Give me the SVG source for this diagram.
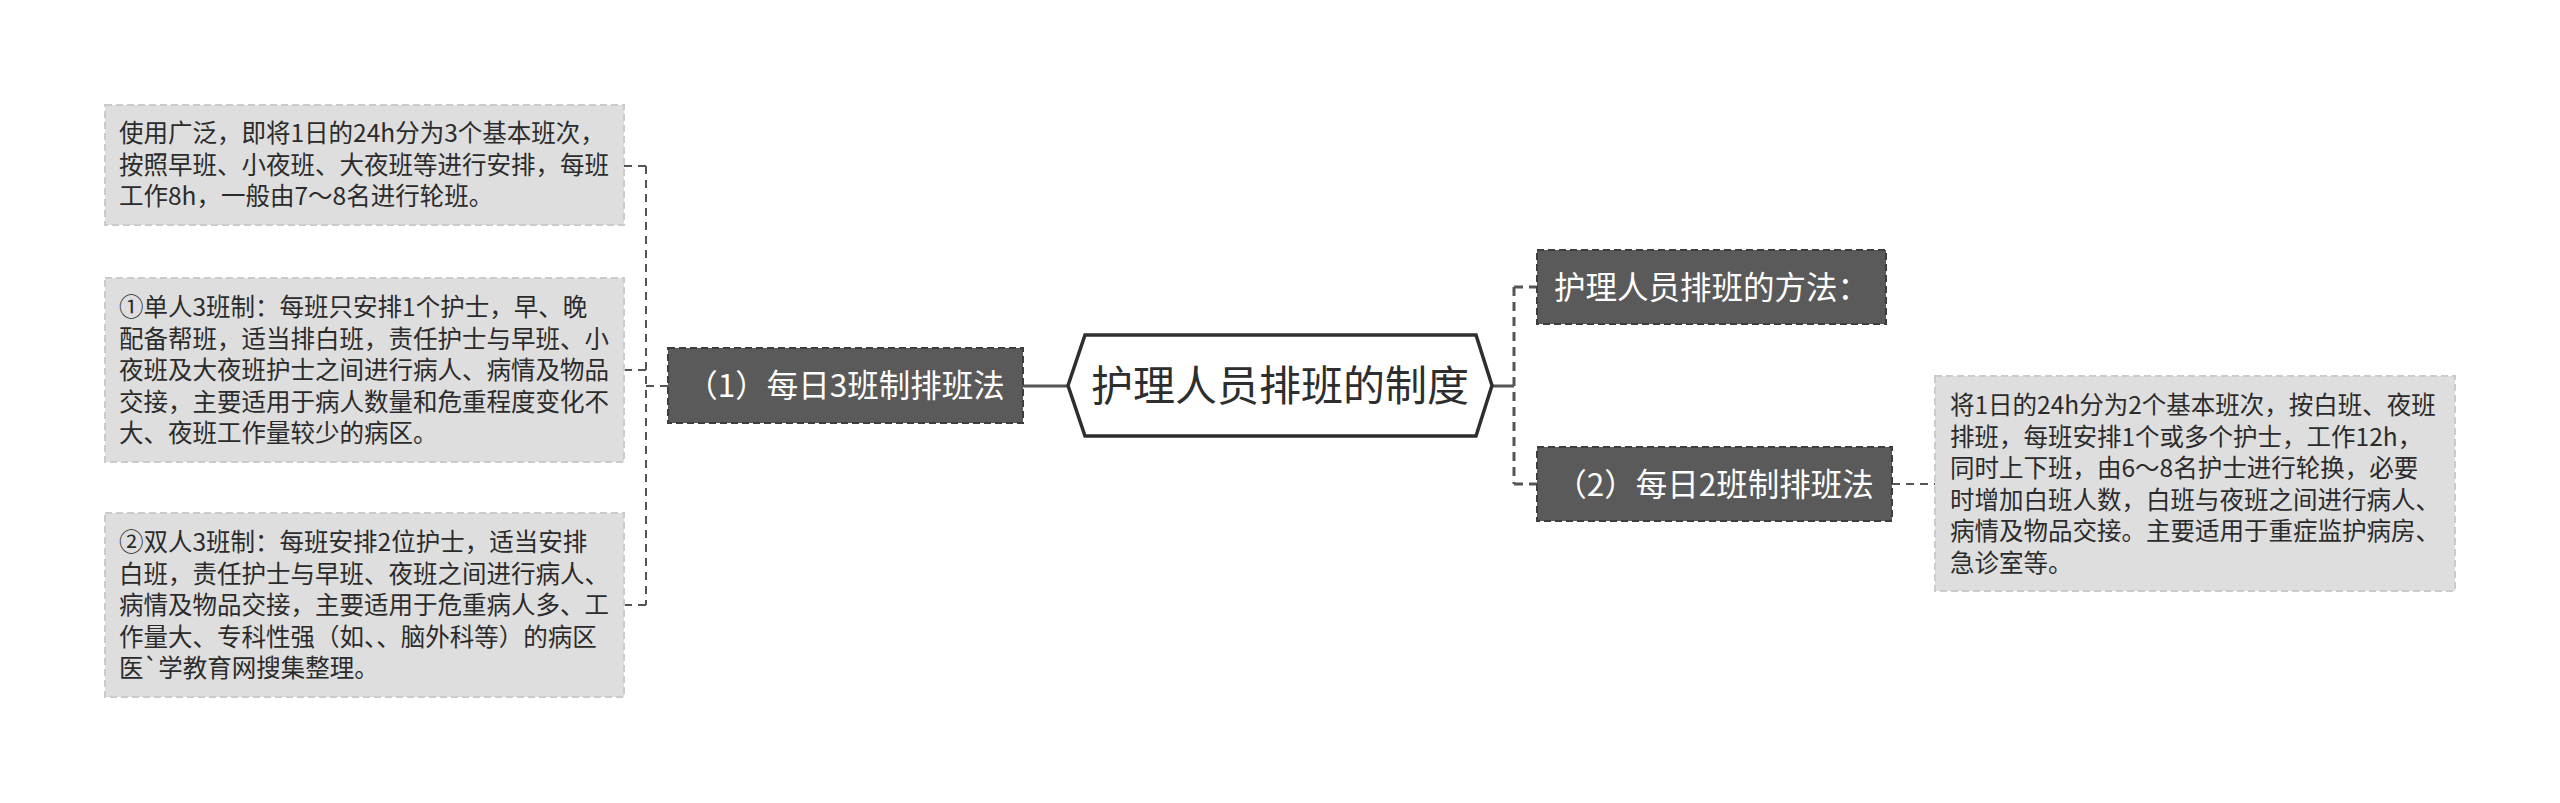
<svg xmlns="http://www.w3.org/2000/svg" width="2560" height="803" viewBox="0 0 2560 803">
<style>
.detail rect{fill:#dedede;stroke:#cbcbcb;stroke-width:2;stroke-dasharray:7 4}
.detail text{font-family:"Noto Sans CJK SC","Noto Sans",sans-serif;font-size:24.5px;fill:#2b2b2b}
.lvl1 rect{fill:#5a5a5a;stroke:#3d3d3d;stroke-width:2;stroke-dasharray:7 4}
.lvl1 text{font-family:"Noto Sans CJK SC","Noto Sans",sans-serif;font-size:31.5px;fill:#ffffff;text-anchor:middle}
.root polygon{fill:#ffffff;stroke:#2e2e2e;stroke-width:3.5}
.root text{font-family:"Noto Sans CJK SC","Noto Sans",sans-serif;font-size:42px;fill:#2e2e2e;text-anchor:middle}
.dash{fill:none;stroke:#555;stroke-width:2;stroke-dasharray:8 6}
.dashR{fill:none;stroke:#555;stroke-width:3;stroke-dasharray:9 6}
.solid{fill:none;stroke:#555;stroke-width:3}
</style>
<rect x="0" y="0" width="2560" height="803" fill="#ffffff"/>
<g id="connectors">
<path class="dash" d="M646 166 V605"/>
<path class="dash" d="M624 166 H646"/>
<path class="dash" d="M624 370 H646"/>
<path class="dash" d="M624 605 H646"/>
<path class="dash" d="M646 386 H668"/>
<path class="solid" d="M1023 386 H1068"/>
<path class="solid" d="M1492 386 H1514"/>
<path class="dashR" d="M1514 287 V484"/>
<path class="dashR" d="M1514 287 H1537"/>
<path class="dashR" d="M1514 484 H1537"/>
<path class="dash" d="M1892 484 H1935"/>
</g>
<g id="root" class="root">
<polygon points="1068,385.5 1085,335 1476,335 1492,385.5 1476,436 1085,436"/>
<text x="1280" y="401">护理人员排班的制度</text>
</g>
<g id="node-3ban" class="lvl1">
<rect x="668" y="348" width="355" height="75"/>
<text x="845.5" y="397">（1）每日3班制排班法</text>
</g>
<g id="node-method" class="lvl1">
<rect x="1537" y="250" width="349" height="74"/>
<text x="1711.5" y="299">护理人员排班的方法：</text>
</g>
<g id="node-2ban" class="lvl1">
<rect x="1537" y="447" width="355" height="74"/>
<text x="1714.5" y="496">（2）每日2班制排班法</text>
</g>
<g id="detail-1" class="detail">
<rect x="105" y="105" width="519" height="120"/>
<text x="119" y="142">使用广泛，即将1日的24h分为3个基本班次，</text>
<text x="119" y="173.5">按照早班、小夜班、大夜班等进行安排，每班</text>
<text x="119" y="205">工作8h，一般由7～8名进行轮班。</text>
</g>
<g id="detail-2" class="detail">
<rect x="105" y="278" width="519" height="184"/>
<text x="119" y="316">①单人3班制：每班只安排1个护士，早、晚</text>
<text x="119" y="347.5">配备帮班，适当排白班，责任护士与早班、小</text>
<text x="119" y="379">夜班及大夜班护士之间进行病人、病情及物品</text>
<text x="119" y="410.5">交接，主要适用于病人数量和危重程度变化不</text>
<text x="119" y="442">大、夜班工作量较少的病区。</text>
</g>
<g id="detail-3" class="detail">
<rect x="105" y="513" width="519" height="184"/>
<text x="119" y="551">②双人3班制：每班安排2位护士，适当安排</text>
<text x="119" y="582.5">白班，责任护士与早班、夜班之间进行病人、</text>
<text x="119" y="614">病情及物品交接，主要适用于危重病人多、工</text>
<text x="119" y="645.5">作量大、专科性强（如、、脑外科等）的病区</text>
<text x="119" y="677">医`学教育网搜集整理。</text>
</g>
<g id="detail-4" class="detail">
<rect x="1935" y="376" width="520" height="215"/>
<text x="1950" y="414">将1日的24h分为2个基本班次，按白班、夜班</text>
<text x="1950" y="445.5">排班，每班安排1个或多个护士，工作12h，</text>
<text x="1950" y="477">同时上下班，由6～8名护士进行轮换，必要</text>
<text x="1950" y="508.5">时增加白班人数，白班与夜班之间进行病人、</text>
<text x="1950" y="540">病情及物品交接。主要适用于重症监护病房、</text>
<text x="1950" y="571.5">急诊室等。</text>
</g>
</svg>
